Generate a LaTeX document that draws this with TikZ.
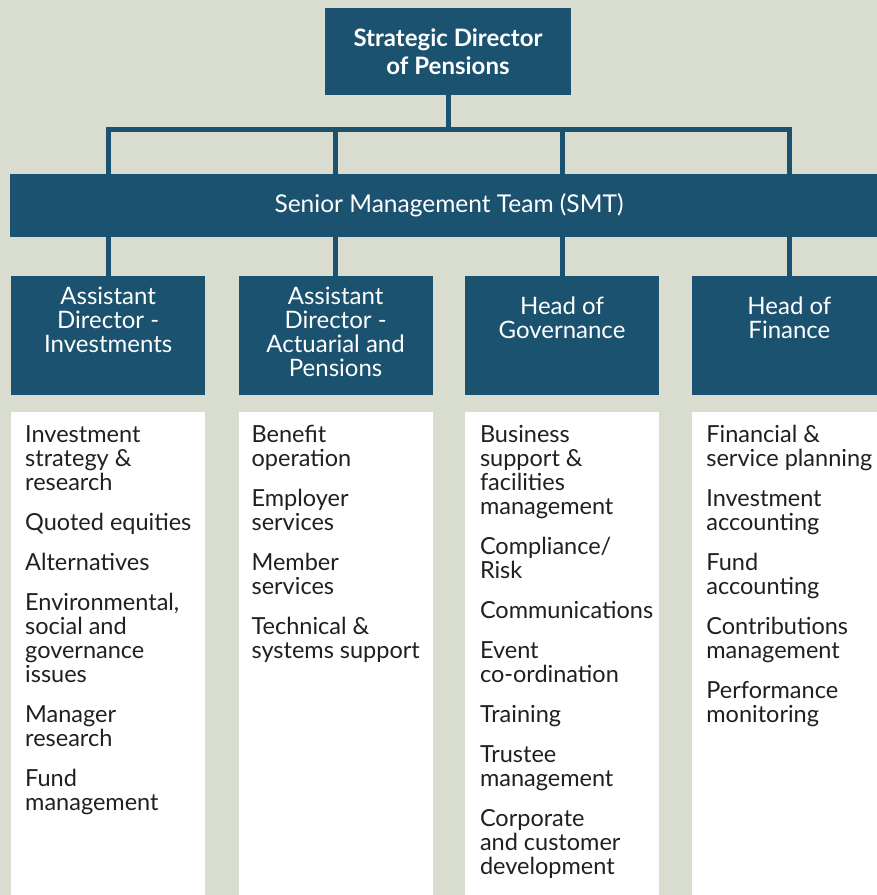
\documentclass[tikz,border=0pt]{standalone}
\usepackage{fontspec}
\setmainfont{Lato}
\usetikzlibrary{positioning}

\definecolor{orgblue}{RGB}{26,82,112}
\definecolor{orgbg}{RGB}{217,221,207}
\definecolor{orgtext}{RGB}{35,31,32}

\begin{document}
\begin{tikzpicture}[
    x=1pt, y=-1pt,
    node distance=33pt,
    dirbox/.style={rectangle, fill=orgblue, text=white, font=\bfseries\fontsize{24}{28}\selectfont, minimum width=246pt, minimum height=87pt, align=center},
    smtbar/.style={rectangle, fill=orgblue, minimum width=880pt, minimum height=63pt},
    headbox/.style={rectangle, fill=orgblue, minimum width=194pt, minimum height=119pt, inner sep=0pt},
    headtext/.style={text=white, font=\fontsize{24}{24}\selectfont, align=center, inner sep=0pt},
    listbox/.style={rectangle, fill=white, minimum width=194pt, minimum height=500pt, inner sep=0pt},
    listtext/.style={text=orgtext, font=\fontsize{23.5}{24}\selectfont, align=left, inner sep=0pt},
    link/.style={draw=orgblue, line width=5pt}
]
\useasboundingbox (0,0) rectangle (877,895);
\clip (0,0) rectangle (877,895);
\fill[orgbg] (0,0) rectangle (877,895);

% top of the tree
\node[dirbox] (director) at (448,51.5) {Strategic Director\\of Pensions};
\node[smtbar, anchor=north west] (smt) at (10,174) {};
\node[text=white, font=\fontsize{24.5}{24}\selectfont] (smtlabel) at (449,205.5) {Senior Management Team (SMT)};

% the four heads
\node[headbox, anchor=north west] (h1) at (11,276) {};
\node[headbox, right=33pt of h1] (h2) {};
\node[headbox, right=32pt of h2] (h3) {};
\node[headbox, right=33pt of h3] (h4) {};

\node[headtext, below=11pt of h1.north] (ht1) {Assistant\\Director -\\Investments};
\node[headtext, below=11pt of h2.north] (ht2) {Assistant\\Director -\\Actuarial and\\Pensions};
\node[headtext, below=21pt of h3.north] (ht3) {Head of\\Governance};
\node[headtext, below=21pt of h4.north] (ht4) {Head of\\Finance};

% duties under each head
\node[listbox, below=16pt of h1] (l1) {};
\node[listbox, below=16pt of h2] (l2) {};
\node[listbox, below=16pt of h3] (l3) {};
\node[listbox, below=16pt of h4] (l4) {};

\node[listtext, below right=14pt and 14pt of l1.north west] (lt1) {Investment\\strategy \&\\research\\[16pt]
  Quoted equities\\[16pt]
  Alternatives\\[16pt]
  Environmental,\\social and\\governance\\issues\\[16pt]
  Manager\\research\\[16pt]
  Fund\\management};
\node[listtext, below right=14pt and 13pt of l2.north west] (lt2) {Benefit\\operation\\[16pt]
  Employer\\services\\[16pt]
  Member\\services\\[16pt]
  Technical \&\\systems support};
\node[listtext, below right=14pt and 15pt of l3.north west] (lt3) {Business\\support \&\\facilities\\management\\[16pt]
  Compliance/\\Risk\\[16pt]
  Communications\\[16pt]
  Event\\co-ordination\\[16pt]
  Training\\[16pt]
  Trustee\\management\\[16pt]
  Corporate\\and customer\\development};
\node[listtext, below right=14pt and 14pt of l4.north west] (lt4) {Financial \&\\service planning\\[16pt]
  Investment\\accounting\\[16pt]
  Fund\\accounting\\[16pt]
  Contributions\\management\\[16pt]
  Performance\\monitoring};

% connectors
\draw[link] (director.south) -- ++(0,34) coordinate (bus);
\draw[link, line cap=rect] (bus -| h1) -- (bus -| h4);
\foreach \h in {h1,h2,h3,h4} {
  \draw[link] (bus -| \h) -- (smt.north -| \h);
  \draw[link] (smt.south -| \h) -- (\h.north);
}
\end{tikzpicture}
\end{document}
